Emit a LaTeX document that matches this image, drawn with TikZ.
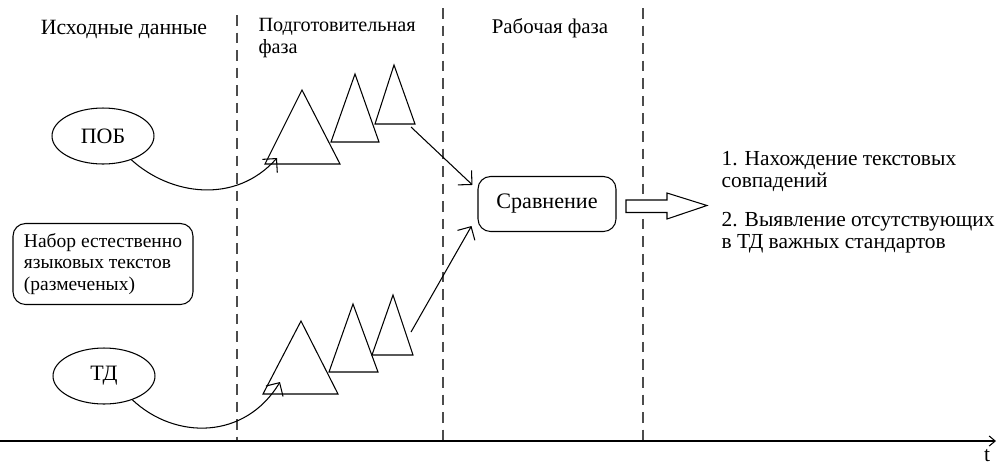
\documentclass[tikz,border=0pt]{standalone}
\usepackage{fontspec}
\setmainfont{Liberation Serif}
\usetikzlibrary{arrows.meta,shapes.geometric}
\begin{document}
\begin{tikzpicture}[x=0.02cm, y=-0.02cm, line width=0.6pt,
		txt/.style={font=\fontsize{12.2}{12}\selectfont, inner sep=0pt, align=left},
		oval/.style={draw, ellipse, minimum width=2.04cm, minimum height=1.12cm, font=\fontsize{12.5}{14}\selectfont},
		rbox/.style={draw, rounded corners=0.25cm, align=left, inner sep=0pt, font=\fontsize{11.1}{12.2}\selectfont},
		barb/.style={-{Straight Barb[length=0.2cm, width=0.4cm]}},
		phase/.style={dash pattern=on 6pt off 4pt, black!70}]
		\useasboundingbox (0,0) rectangle (998,468);
		% границы фаз и ось времени
		\foreach \x/\y in {237/15,443/8,643/8}
			\draw[phase] (\x,\y) -- (\x,441);
		\coordinate (o) at (0,441);
		\coordinate (tend) at (996,441);
		\draw[-{Straight Barb[length=0.12cm, width=0.2cm]}] (o) -- (tend);
		\node[txt] (t) at (987,456) {t};
		% заголовки
		\node[txt, font=\fontsize{12.4}{13}\selectfont] (src) at (124,29) {Исходные данные};
		\node[txt, anchor=north west, font=\fontsize{11.5}{12.4}\selectfont] (prep) at (258,18) {Подготовительная\\фаза};
		\node[txt, font=\fontsize{11.9}{13}\selectfont] (work) at (550,28) {Рабочая фаза};
		% исходные данные
		\node[oval] (pob) at (103,136) {ПОБ};
		\node[rbox, minimum width=3.6cm, minimum height=1.62cm] (set) at (103,264) {Набор естественно\\языковых текстов\\(размеченых)};
		\node[oval] (td) at (104,376) {ТД};
		% треугольники: вершина / левый угол / правый угол основания
		\foreach \n/\ax/\ay/\lx/\rx/\by in {a1/302/90/265/340/164, a2/355/74/331/379/142, a3/394/65/375/415/124,
			b1/301/321/263/338/394, b2/353/304/329/378/372, b3/393/295/372/413/355}{
			\coordinate (\n-top) at (\ax,\ay);
			\coordinate (\n-l) at (\lx,\by);
			\coordinate (\n-r) at (\rx,\by);
			\draw[fill=white] (\n-top) -- (\n-l) -- (\n-r) -- cycle;
		}
		% сравнение
		\node[draw, rounded corners=0.25cm, minimum width=2.76cm, minimum height=1.1cm, font=\fontsize{12.6}{14}\selectfont] (cmp) at (547,204) {Сравнение};
		\coordinate (in-a) at (411,127);
		\coordinate (in-b) at (411,332);
		\draw[barb] (in-a) -- ([xshift=-0.1cm, yshift=-0.18cm]cmp.north west);
		\draw[barb] (in-b) -- ([xshift=-0.12cm, yshift=0.12cm]cmp.south west);
		\draw[barb] (pob.-40) .. controls (170,195) and (235,205) .. ([xshift=0.24cm, yshift=0.12cm]a1-l);
		\draw[barb] (td.-40) .. controls (175,440) and (245,440) .. ([xshift=0.34cm, yshift=0.24cm]b1-l);
		% выход
		\draw[fill=white] (626,200) -- (667,200) -- (667,193) -- (707,205.5) -- (667,219) -- (667,212.5) -- (626,212.5) -- cycle;
		\node[txt, anchor=base west] (res1) at (721,187) {1. Нахождение текстовых\\совпадений};
		\node[txt, anchor=base west] (res2) at (721,248) {2. Выявление отсутствующих\\в ТД важных стандартов};
	\end{tikzpicture}
\end{document}
